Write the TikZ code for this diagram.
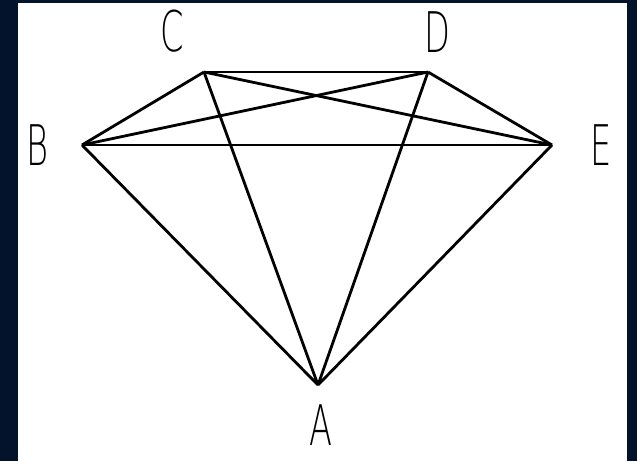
\documentclass[tikz,border=0pt]{standalone}
\usepackage{fontspec}
\usepackage{xcolor}
\usetikzlibrary{positioning}
\newfontfamily\lblfont[FakeStretch=0.6]{DejaVu Sans ExtraLight}
\definecolor{frame}{HTML}{02132B}

\begin{document}
\begin{tikzpicture}[
  x=1pt, y=-1pt,
  every node/.style={font=\lblfont\fontsize{56}{56}\selectfont, inner sep=0pt},
  edge/.style={draw=black, line width=2.8pt, line join=round}
]
% frame and page
\fill[frame] (0,0) rectangle (637,461);
\fill[white] (18,3) rectangle (627,461);
\useasboundingbox (0,0) rectangle (637,461);

% vertices
\coordinate (A) at (318,385);
\coordinate (B) at (82,145);
\coordinate (C) at (204,72);
\coordinate (D) at (428,72);
\coordinate (E) at (552,145);

% labels
\node (la) at (321,425) {A};
\node (lb) at (37,145) {B};
\node (lc) at (172,31) {C};
\node (ld) at (437,32) {D};
\node (le) at (601,145) {E};

% edges
\draw[edge] (B) -- (C);
\draw[edge] (C) -- (D);
\draw[edge] (D) -- (E);
\draw[edge] (B) -- (E);
\draw[edge] (B) -- (D);
\draw[edge] (C) -- (E);
\draw[edge] (A) -- (B);
\draw[edge] (A) -- (C);
\draw[edge] (A) -- (D);
\draw[edge] (A) -- (E);
\end{tikzpicture}
\end{document}
